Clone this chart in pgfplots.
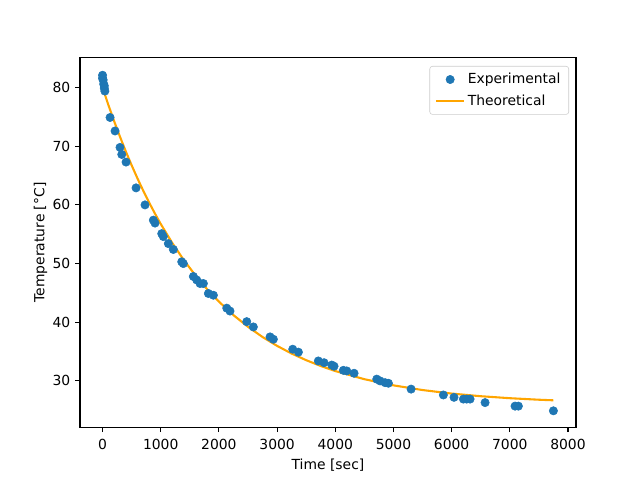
\documentclass[border=0pt]{standalone}
\usepackage{fontspec}
\setmainfont{DejaVu Sans}
\usepackage{pgfplots}
\pgfplotsset{compat=1.18}
\definecolor{mplblue}{HTML}{1F77B4}
\definecolor{mplorange}{HTML}{FFA500}
\definecolor{legframe}{HTML}{CCCCCC}
\begin{document}
\begin{tikzpicture}
\begin{axis}[
  scale only axis,
  width=357.1pt, height=266.1pt,
  xmin=-387.5, xmax=8137.5,
  ymin=22.1, ymax=85.1,
  xtick={0,1000,2000,3000,4000,5000,6000,7000,8000},
  ytick={30,40,50,60,70,80},
  scaled x ticks=false,
  /pgf/number format/.cd, 1000 sep={}, assume math mode=true,
  /pgfplots/.cd,
  tick align=outside,
  tick pos=left,
  major tick length=3.5pt,
  tick style={black, line width=0.8pt},
  axis line style={line width=0.8pt},
  ticklabel style={font=\fontsize{10}{12}\selectfont},
  xticklabel style={yshift=-1.5pt},
  label style={font=\fontsize{10}{12}\selectfont},
  xlabel={Time [sec]},
  ylabel={Temperature [°C]},
  xlabel style={yshift=0pt},
  ylabel style={yshift=-3pt},
  legend style={at={(1,1)}, anchor=north east, xshift=-5pt, yshift=-6pt,
    draw=legframe, rounded corners=2pt, font=\fontsize{10}{12}\selectfont,
    inner xsep=4pt, inner ysep=3pt, row sep=2.5pt},
  legend image code/.code={
    \draw[mark repeat=2,mark phase=2,#1] plot coordinates {(0cm,0cm) (0.35cm,0cm) (0.7cm,0cm)};},
  legend cell align=left,
]
\addplot[only marks, mark=*, mark size=3pt, color=mplblue, mark options={draw=mplblue, fill=mplblue}] coordinates {
(0,82.1) (0,81.6) (10,81.3) (20,80.6) (30,80.3) (30,79.9) (40,79.4)
(129,74.9) (215,72.6) (300,69.8) (330,68.6) (404,67.3) (576,62.9)
(730,60.0) (873,57.4) (902,56.9) (1017,55.1) (1045,54.6) (1131,53.4)
(1217,52.4) (1361,50.3) (1389,50.0) (1561,47.8) (1619,47.2) (1676,46.6)
(1733,46.6) (1819,44.9) (1905,44.6) (2135,42.4) (2191,41.9) (2478,40.1)
(2592,39.2) (2879,37.5) (2936,37.1) (3269,35.4) (3366,34.9) (3709,33.4)
(3807,33.1) (3939,32.7) (3979,32.5) (4139,31.8) (4197,31.7) (4323,31.3)
(4713,30.3) (4770,30.0) (4856,29.7) (4913,29.6) (5303,28.6) (5858,27.6)
(6041,27.2) (6202,26.9) (6259,26.9) (6317,26.9) (6575,26.3) (7090,25.7)
(7147,25.7) (7749,24.9)
};
\addlegendentry{Experimental}
\addplot[color=mplorange, line width=1.5pt, mark=none, line join=round] coordinates {
(0,80.00) (100,77.04) (200,74.25) (300,71.61) (400,69.11) (500,66.75)
(600,64.52) (700,62.41) (800,60.42) (900,58.53) (1000,56.75) (1200,53.48)
(1400,50.55) (1600,47.94) (1800,45.60) (2000,43.51) (2250,41.21) (2500,39.22)
(2750,37.48) (3000,35.97) (3250,34.66) (3500,33.53) (3750,32.54) (4000,31.68)
(4500,30.29) (5000,29.24) (5500,28.44) (6000,27.84) (6500,27.39) (7000,27.05)
(7500,26.79) (7750,26.69)
};
\addlegendentry{Theoretical}
\end{axis}
\useasboundingbox ([shift={(-57.6pt,-38pt)}]current axis.south west) rectangle ([shift={(46.08pt,41.5pt)}]current axis.north east);
\end{tikzpicture}
\end{document}
